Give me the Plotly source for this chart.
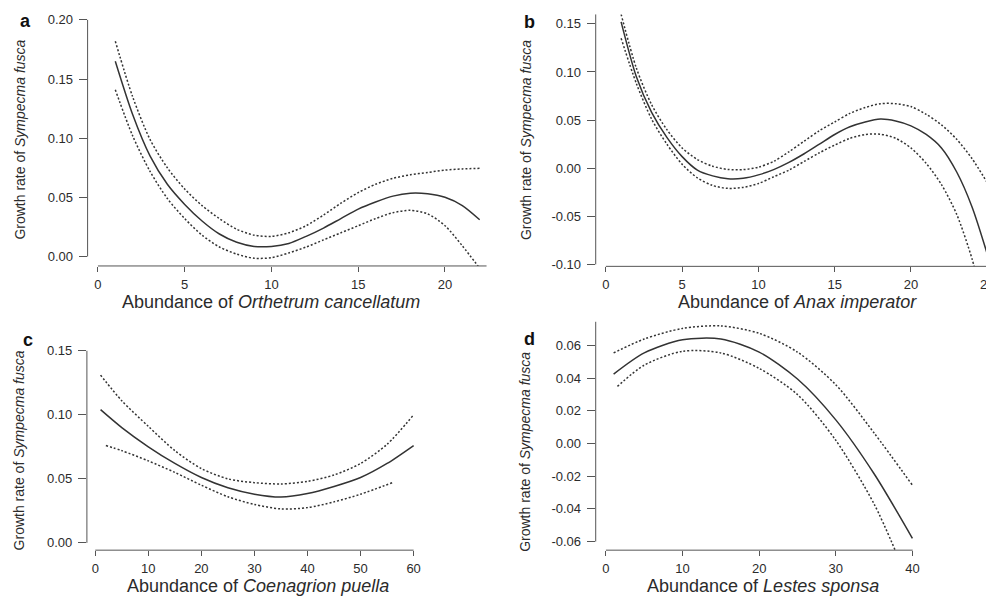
import plotly.graph_objects as go

# The page body keeps an 8px margin, so the figure is drawn 8px smaller
# and every reference pixel position is shifted by OFF.
OFF = 8
FW, FH = 994 - OFF, 601 - OFF

# ---------------- data ----------------
# Panel a: Orthetrum cancellatum
a_x = list(range(1, 23))
a_fit = [0.165, 0.120, 0.085, 0.061, 0.044, 0.030, 0.019, 0.012, 0.0085, 0.0085, 0.011, 0.017,
         0.024, 0.032, 0.040, 0.046, 0.051, 0.0535, 0.053, 0.050, 0.043, 0.031]
a_upper = [0.182, 0.135, 0.099, 0.075, 0.057, 0.043, 0.032, 0.023, 0.018, 0.017, 0.020, 0.026,
           0.035, 0.045, 0.054, 0.061, 0.066, 0.069, 0.071, 0.073, 0.074, 0.0745]
a_lower = [0.141, 0.102, 0.072, 0.049, 0.032, 0.018, 0.008, 0.002, -0.0015, -0.001, 0.003, 0.008,
           0.014, 0.020, 0.026, 0.032, 0.037, 0.039, 0.036, 0.026, 0.009, -0.010]

# Panel b: Anax imperator
b_x = list(range(1, 26))
b_fit = [0.152, 0.095, 0.058, 0.032, 0.012, -0.002, -0.008, -0.011, -0.0105, -0.007, -0.0015,
         0.006, 0.015, 0.025, 0.035, 0.043, 0.048, 0.051, 0.049, 0.044, 0.035, 0.021, -0.004,
         -0.040, -0.089]
b_upper = [0.160, 0.104, 0.066, 0.040, 0.021, 0.009, 0.002, -0.0013, -0.0015, 0.001, 0.007,
           0.017, 0.028, 0.039, 0.048, 0.057, 0.063, 0.067, 0.067, 0.064, 0.056, 0.045, 0.030,
           0.010, -0.015]
b_lo_x = list(range(1, 25)) + [24.5]
b_lower = [0.135, 0.088, 0.051, 0.025, 0.004, -0.010, -0.018, -0.021, -0.020, -0.016, -0.009,
           -0.002, 0.007, 0.016, 0.024, 0.031, 0.035, 0.0353, 0.031, 0.021, 0.005, -0.017,
           -0.048, -0.094, -0.125]

# Panel c: Coenagrion puella
c_x = [1, 5, 10, 15, 20, 25, 30, 35, 40, 45, 50, 55, 60]
c_fit = [0.104, 0.090, 0.075, 0.062, 0.051, 0.043, 0.038, 0.0358, 0.0385, 0.044, 0.051, 0.062, 0.076]
c_upper = [0.131, 0.111, 0.091, 0.072, 0.058, 0.050, 0.047, 0.046, 0.048, 0.053, 0.062, 0.077, 0.100]
c_lo_x = [2, 5, 10, 15, 20, 25, 30, 35, 40, 45, 50, 56]
c_lower = [0.076, 0.072, 0.064, 0.055, 0.045, 0.036, 0.030, 0.0265, 0.0275, 0.032, 0.038, 0.047]

# Panel d: Lestes sponsa
d_x = [1, 5, 10, 15, 20, 25, 30, 35, 40]
d_fit = [0.0425, 0.0555, 0.0635, 0.064, 0.056, 0.0395, 0.0145, -0.0185, -0.058]
d_upper = [0.0555, 0.064, 0.0705, 0.072, 0.0675, 0.056, 0.036, 0.0065, -0.0255]
d_lo_x = [1.5, 5, 10, 15, 20, 25, 30, 35, 38]
d_lower = [0.035, 0.048, 0.0565, 0.0555, 0.046, 0.030, 0.002, -0.037, -0.068]

# tick values / labels
a_xticks = [0, 5, 10, 15, 20]
a_yticks = [0.00, 0.05, 0.10, 0.15, 0.20]
a_ylabels = ["0.00", "0.05", "0.10", "0.15", "0.20"]
b_xticks = [0, 5, 10, 15, 20, 25]
b_yticks = [-0.10, -0.05, 0.00, 0.05, 0.10, 0.15]
b_ylabels = ["-0.10", "-0.05", "0.00", "0.05", "0.10", "0.15"]
c_xticks = [0, 10, 20, 30, 40, 50, 60]
c_yticks = [0.00, 0.05, 0.10, 0.15]
c_ylabels = ["0.00", "0.05", "0.10", "0.15"]
d_xticks = [0, 10, 20, 30, 40]
d_yticks = [-0.06, -0.04, -0.02, 0.00, 0.02, 0.04, 0.06]
d_ylabels = ["-0.06", "-0.04", "-0.02", "0.00", "0.02", "0.04", "0.06"]

x_titles = ["Abundance of <i>Orthetrum cancellatum</i>",
            "Abundance of <i>Anax imperator</i>",
            "Abundance of <i>Coenagrion puella</i>",
            "Abundance of <i>Lestes sponsa</i>"]
y_title = "Growth rate of <i>Sympecma fusca</i>"
panel_letters = ["a", "b", "c", "d"]

# ---------------- layout geometry (reference pixels) ----------------
FONT = "Liberation Sans, Arial, Helvetica, sans-serif"
INK = "#2b2b2b"
AXC = "#555555"

geom = [
    dict(xc=(0, 98.4, 20, 447.2), yc=(0.0, 259, 0.20, 20), dom=(88, 500, 10.4, 268.6),
         xline=(0, 489), yline=(0.0, 0.20),
         xt=(272, 305), yt=(20, 141), lab=(26, 21)),
    dict(xc=(0, 608.9, 25, 992.2), yc=(-0.10, 267, 0.15, 24), dom=(598.7, 994, 14.5, 269),
         xline=(0, 993), yline=(-0.10, None),
         xt=(802, 305), yt=(528, 141), lab=(532, 22)),
    dict(xc=(0, 95.7, 60, 415.7), yc=(0.0, 548.3, 0.15, 354.3), dom=(87.3, 440, 346.5, 555.7),
         xline=(0, 415.7), yline=(0.0, 0.15),
         xt=(259, 592), yt=(20, 455), lab=(28, 343)),
    dict(xc=(0, 609, 40, 917), yc=(-0.06, 547, 0.06, 349), dom=(598.7, 940, 325, 555.7),
         xline=(0, 917.3), yline=(-0.06, None),
         xt=(767, 592), yt=(528, 456), lab=(532, 342)),
]

series = [
    (a_x, a_fit, a_x, a_upper, a_x, a_lower, a_xticks, a_yticks, a_ylabels),
    (b_x, b_fit, b_x, b_upper, b_lo_x, b_lower, b_xticks, b_yticks, b_ylabels),
    (c_x, c_fit, c_x, c_upper, c_lo_x, c_lower, c_xticks, c_yticks, c_ylabels),
    (d_x, d_fit, d_x, d_upper, d_lo_x, d_lower, d_xticks, d_yticks, d_ylabels),
]


def inv(c, p):
    v0, p0, v1, p1 = c
    return v0 + (p - p0) * (v1 - v0) / (p1 - p0)


def fwd(c, v):
    v0, p0, v1, p1 = c
    return p0 + (v - v0) * (p1 - p0) / (v1 - v0)


def px2paper(px):
    return (px - OFF) / FW


def py2paper(py):
    return 1 - (py - OFF) / FH


fig = go.Figure()
shapes, annotations = [], []
layout = {}

for i, (g, s) in enumerate(zip(geom, series)):
    n = "" if i == 0 else str(i + 1)
    xid, yid = "x" + n, "y" + n
    fx, fy, ux, uy, lx, ly, xticks, yticks, ylabels = s
    L, R, T, B = g["dom"]
    xr = [inv(g["xc"], L), inv(g["xc"], R)]
    yr = [inv(g["yc"], B), inv(g["yc"], T)]

    for xs, ys, dash in ((ux, uy, "2px,2px"), (lx, ly, "2px,2px"), (fx, fy, "solid")):
        fig.add_trace(go.Scatter(x=xs, y=ys, mode="lines", xaxis=xid, yaxis=yid,
                                 line=dict(color="#333333", width=1.5, dash=dash, shape="spline",
                                           smoothing=0.8),
                                 showlegend=False, hoverinfo="skip"))

    layout["xaxis" + n] = dict(domain=[max(0.0, px2paper(L)), min(1.0, px2paper(R))],
                               range=xr, anchor=yid,
                               showgrid=False, zeroline=False, showline=False,
                               ticks="outside", ticklen=5, tickwidth=1, tickcolor=AXC,
                               tickvals=xticks, ticktext=[str(t) for t in xticks],
                               tickfont=dict(family=FONT, size=13, color=INK),
                               ticklabelstandoff=1, ticklabeloverflow="allow")
    layout["yaxis" + n] = dict(domain=[py2paper(B), py2paper(T)], range=yr, anchor=xid,
                               showgrid=False, zeroline=False, showline=False,
                               ticks="outside", ticklen=8, tickwidth=1, tickcolor=AXC,
                               tickvals=yticks, ticktext=ylabels,
                               tickfont=dict(family=FONT, size=13, color=INK),
                               ticklabelstandoff=3, ticklabeloverflow="allow")

    # axis lines (R style: detached, spanning the tick range)
    xv0, xpend = g["xline"]
    shapes.append(dict(type="line", xref=xid + " domain", yref=yid + " domain",
                       x0=(fwd(g["xc"], xv0) - L) / (R - L), x1=(xpend - L) / (R - L),
                       y0=0, y1=0, line=dict(color=AXC, width=1)))
    yv0, yv1 = g["yline"]
    y0f = (B - fwd(g["yc"], yv0)) / (B - T)
    y1f = 1.0 if yv1 is None else (B - fwd(g["yc"], yv1)) / (B - T)
    shapes.append(dict(type="line", xref=xid + " domain", yref=yid + " domain",
                       x0=0, x1=0, y0=y0f, y1=y1f, line=dict(color=AXC, width=1)))

    # titles and panel letter
    tx, ty = g["xt"]
    annotations.append(dict(text=x_titles[i], x=px2paper(tx), y=py2paper(ty),
                            xref="paper", yref="paper",
                            showarrow=False, xanchor="center", yanchor="middle",
                            font=dict(family=FONT, size=18, color=INK)))
    yx, yy = g["yt"]
    annotations.append(dict(text=y_title, x=px2paper(yx), y=py2paper(yy),
                            xref="paper", yref="paper",
                            showarrow=False, xanchor="center", yanchor="middle", textangle=-90,
                            font=dict(family=FONT, size=14, color=INK)))
    lx_, ly_ = g["lab"]
    annotations.append(dict(text="<b>" + panel_letters[i] + "</b>", x=px2paper(lx_),
                            y=py2paper(ly_), xref="paper", yref="paper", showarrow=False,
                            xanchor="center", yanchor="middle",
                            font=dict(family=FONT, size=18, color="#111111")))

fig.update_layout(width=FW, height=FH, margin=dict(l=0, r=0, t=0, b=0),
                  paper_bgcolor="white", plot_bgcolor="white",
                  shapes=shapes, annotations=annotations, **layout)

fig.write_html("out.html", config={"displayModeBar": False})
